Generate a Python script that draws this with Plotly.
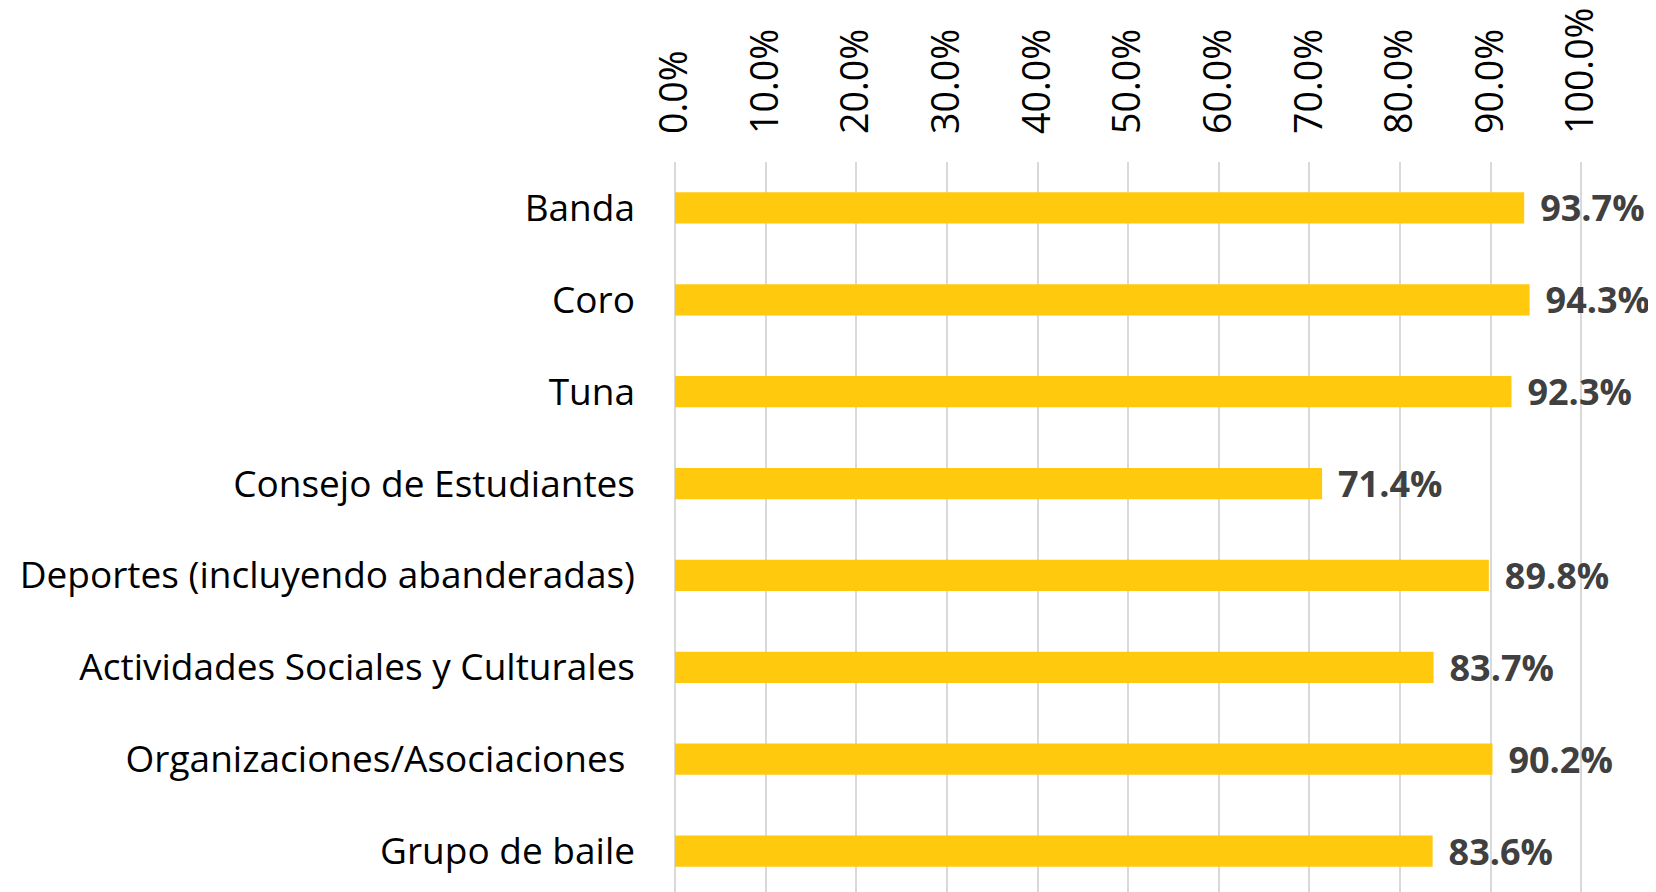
import plotly.graph_objects as go

categories = ["Banda", "Coro", "Tuna", "Consejo de Estudiantes",
              "Deportes (incluyendo abanderadas)", "Actividades Sociales y Culturales",
              "Organizaciones/Asociaciones\u00a0", "Grupo de baile"]
values = [93.7, 94.3, 92.3, 71.4, 89.8, 83.7, 90.2, 83.6]
tick_vals = [0, 10, 20, 30, 40, 50, 60, 70, 80, 90, 100]
tick_text = [f"{v:.1f}%" for v in tick_vals]
value_labels = [f"\u00a0\u200a{v:.1f}%" for v in values]

fig = go.Figure(go.Bar(
    x=values, y=categories, orientation="h",
    marker=dict(color="#FFC90E", line=dict(width=0)),
    width=0.34,
    text=value_labels, textposition="outside", cliponaxis=False,
    constraintext="none",
    textfont=dict(family="Open Sans", size=36, color="#404040", weight="bold"),
))

fig.update_layout(
    width=1656, height=892,
    margin=dict(l=667, r=80, t=154, b=3),
    paper_bgcolor="white", plot_bgcolor="white",
    showlegend=False,
    font=dict(family="Open Sans", color="black"),
    xaxis=dict(side="top", range=[0, 100.3], tickvals=tick_vals, ticktext=tick_text,
               tickangle=-90, tickfont=dict(size=37.5, family="Open Sans", color="black"),
               showgrid=True, gridcolor="#D9D9D9", gridwidth=1.5,
               zeroline=True, zerolinecolor="#D9D9D9", zerolinewidth=1.5,
               showline=False, ticks="", ticklabelstandoff=27, automargin=False),
    yaxis=dict(autorange="reversed", tickfont=dict(size=37, family="Open Sans", color="black"),
               showgrid=False, zeroline=False, showline=False, ticks="",
               ticklabelstandoff=39, automargin=False),
)

fig.write_html("out.html")
